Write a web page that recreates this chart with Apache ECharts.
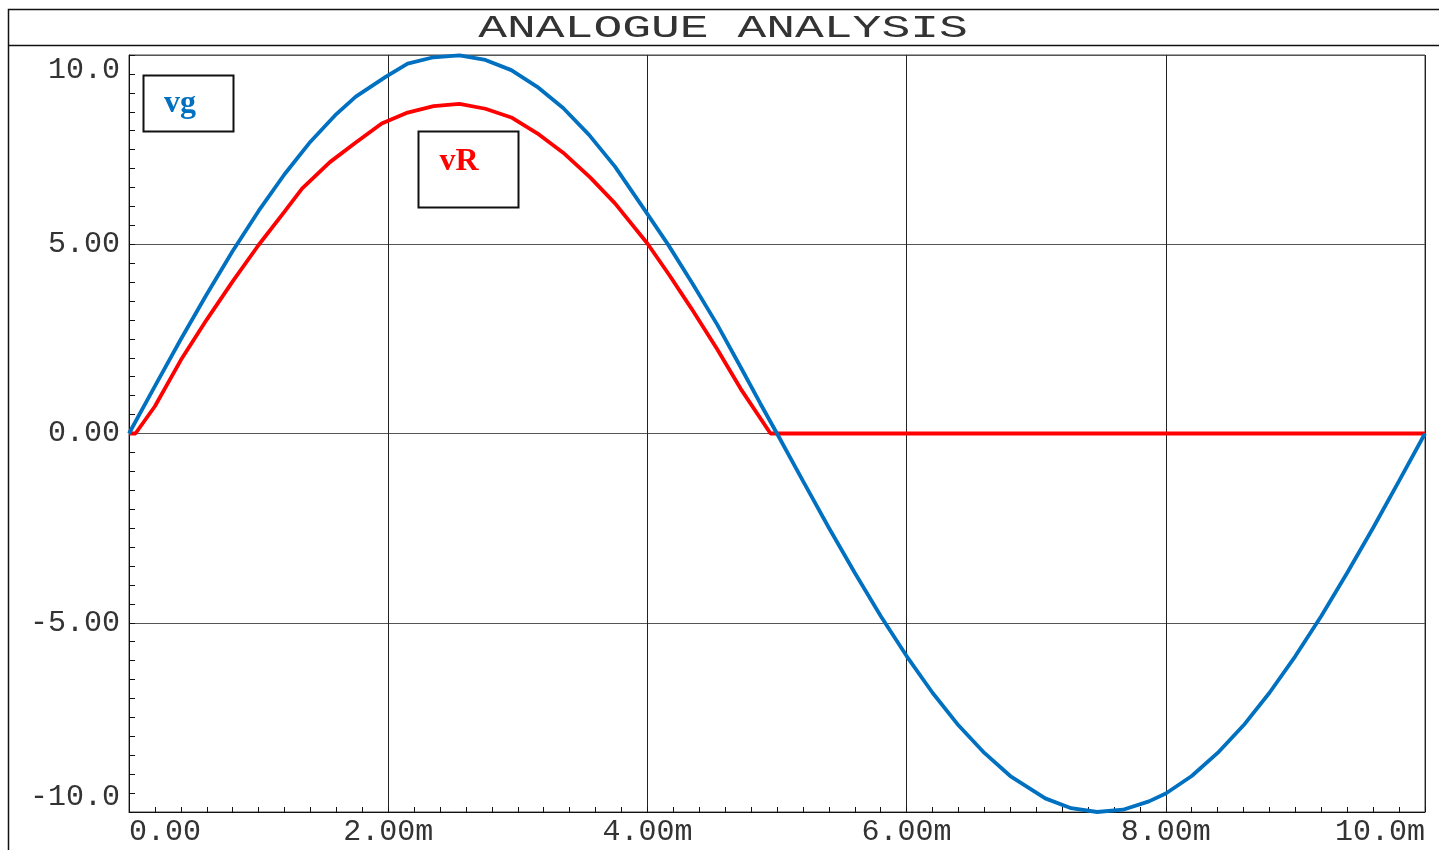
<!DOCTYPE html>
<html>
<head>
<meta charset="utf-8">
<script src="https://cdn.jsdelivr.net/npm/echarts@6/dist/echarts.min.js"></script>
<style>
html,body{margin:0;padding:0;background:#fff;}
#chart{width:1439px;height:850px;}
</style>
</head>
<body>
<div id="chart"></div>
<script>
// ---- data (time in ms, voltage in V) ----
var timeVg = [0,0.2,0.4,0.6,0.8,1.0,1.2,1.4,1.6,1.75,1.98,2.15,2.35,2.55,2.75,2.95,3.15,3.35,3.55,3.75,3.96,4.16,4.35,4.54,4.72,4.87,5.0,
              5.2,5.4,5.6,5.8,6.0,6.2,6.4,6.6,6.8,7.07,7.27,7.47,7.67,7.87,8.0,8.2,8.4,8.6,8.8,9.0,9.2,9.4,9.6,9.8,10.0];
var vg = [0,1.25,2.49,3.68,4.82,5.88,6.85,7.71,8.44,8.90,9.42,9.77,9.94,9.99,9.87,9.60,9.16,8.60,7.89,7.05,6.00,4.99,3.95,2.87,1.75,0.80,0,
          -1.25,-2.49,-3.68,-4.82,-5.88,-6.85,-7.71,-8.44,-9.05,-9.64,-9.90,-10.0,-9.94,-9.72,-9.51,-9.05,-8.44,-7.71,-6.85,-5.88,-4.82,-3.68,-2.49,-1.25,0];
var timeVR = [0,0.05,0.2,0.4,0.6,0.8,1.0,1.2,1.335,1.55,1.75,1.95,2.15,2.35,2.55,2.75,2.95,3.15,3.35,3.56,3.75,4.0,4.17,4.34,4.54,4.72,4.95,5.5,6.0,7.0,8.0,9.0,10.0];
var vR = [0,0,0.72,1.94,3.01,4.02,4.98,5.86,6.47,7.17,7.69,8.19,8.48,8.65,8.71,8.58,8.35,7.93,7.42,6.76,6.08,5.02,4.18,3.30,2.22,1.18,0,0,0,0,0,0,0];
var xTicks = [0,2,4,6,8,10];
var yTicks = [-10,-5,0,5,10];
var titleText = 'ANALOGUE ANALYSIS';

function pairs(t, v){ var r=[]; for(var i=0;i<t.length;i++) r.push([t[i], v[i]]); return r; }

var chart = echarts.init(document.getElementById('chart'), null, {renderer:'canvas'});
var labelFont = 'Liberation Mono';
var option = {
  backgroundColor:'#fff',
  animation:false,
  grid:{left:129, top:55, right:14, bottom:38, show:true, borderColor:'#444', borderWidth:1, containLabel:false},
  xAxis:{
    type:'value', min:xTicks[0], max:xTicks[xTicks.length-1], interval:2,
    axisLine:{onZero:false, lineStyle:{color:'#111', width:1}},
    axisTick:{show:true, inside:true, length:5, lineStyle:{color:'#111'}},
    minorTick:{show:true, splitNumber:10, length:5, lineStyle:{color:'#111'}},
    splitLine:{show:true, lineStyle:{color:'#222', width:1}},
    axisLabel:{
      margin:5, color:'#333', fontFamily:labelFont, fontSize:30,
      alignMinLabel:'left', alignMaxLabel:'right',
      formatter:function(v){ if(v===0) return '0.00'; if(v===10) return '10.0m'; return v.toFixed(2)+'m'; }
    }
  },
  yAxis:{
    type:'value', min:yTicks[0], max:yTicks[yTicks.length-1], interval:5,
    axisLine:{onZero:false, lineStyle:{color:'#111', width:1}},
    axisTick:{show:true, inside:true, length:6, lineStyle:{color:'#111'}},
    minorTick:{show:true, splitNumber:10, length:6, lineStyle:{color:'#111'}},
    splitLine:{show:true, lineStyle:{color:'#555', width:1}},
    axisLabel:{
      margin:9, color:'#333', fontFamily:labelFont, fontSize:30,
      verticalAlignMinLabel:'bottom', verticalAlignMaxLabel:'top',
      formatter:function(v){ if(v===10) return '10.0'; if(v===-10) return '-10.0'; return v.toFixed(2); }
    }
  },
  series:[
    {name:'vR', type:'line', data:pairs(timeVR, vR), showSymbol:false, lineStyle:{color:'#FF0000', width:3.8}, z:3},
    {name:'vg', type:'line', data:pairs(timeVg, vg), showSymbol:false, lineStyle:{color:'#0070C0', width:3.8}, z:4}
  ],
  graphic:[
    {type:'rect', shape:{x:8.5, y:9.5, width:1440, height:850}, style:{fill:null, stroke:'#111', lineWidth:1.5}, silent:true},
    {type:'line', shape:{x1:8, y1:45.5, x2:1439, y2:45.5}, style:{stroke:'#111', lineWidth:1.5}, silent:true},
    {type:'text', x:723, y:29, scaleX:1.5, style:{text:titleText, x:0, y:0, align:'center', verticalAlign:'middle', fill:'#333', font:'32px "Liberation Mono"'}, silent:true},
    {type:'rect', shape:{x:143.5, y:75.5, width:90, height:56}, style:{fill:'#fff', stroke:'#111', lineWidth:2}, z:10},
    {type:'text', x:180, y:104, z:11, style:{text:'vg', align:'center', verticalAlign:'middle', fill:'#0070C0', font:'bold 32px "Liberation Serif"'}},
    {type:'rect', shape:{x:418.5, y:131.5, width:100, height:76}, style:{fill:'#fff', stroke:'#111', lineWidth:2}, z:10},
    {type:'text', x:459, y:162, z:11, style:{text:'vR', align:'center', verticalAlign:'middle', fill:'#FF0000', font:'bold 32px "Liberation Serif"'}}
  ]
};
chart.setOption(option);
</script>
</body>
</html>
